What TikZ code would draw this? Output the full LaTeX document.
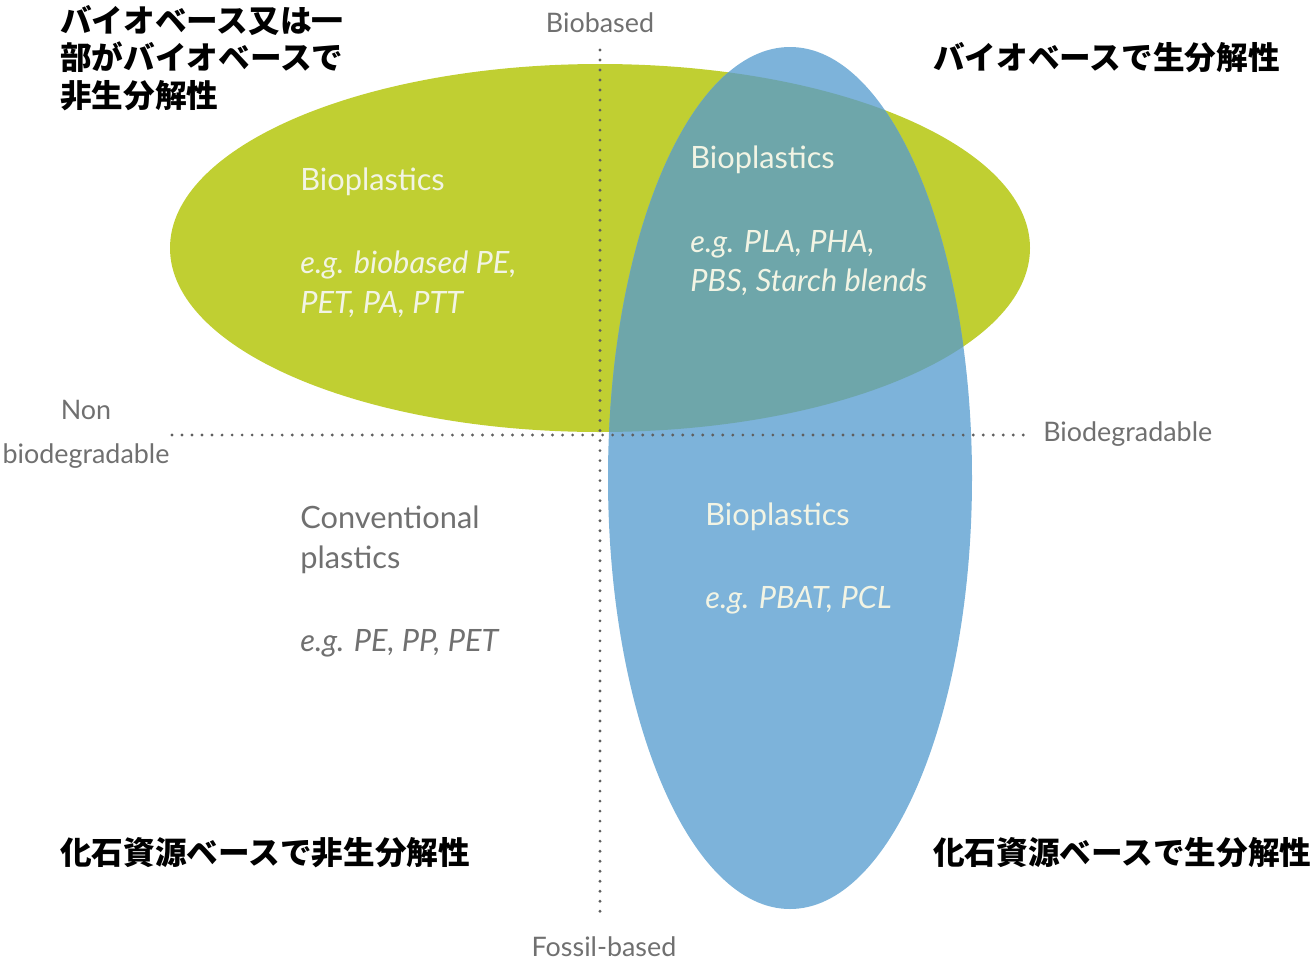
\documentclass[tikz,border=0pt]{standalone}
\usepackage{fontspec}
\setmainfont{Lato}
\newfontfamily\jpfont{Noto Sans CJK JP}
\usepackage{xcolor}
\usepackage{tikz}

\definecolor{bioGreen}{RGB}{192,207,50}
\definecolor{bioBlue}{RGB}{125,179,218}
\definecolor{bioTeal}{RGB}{110,166,170}
\definecolor{axisGray}{RGB}{112,112,112}
\definecolor{dotGray}{RGB}{95,95,95}
\definecolor{lightText}{RGB}{242,244,228}

\begin{document}
\begin{tikzpicture}[x=0.02cm,y=-0.02cm,
  axislabel/.style={text=axisGray,font=\fontsize{15.3}{25}\selectfont,inner sep=0pt},
  biolabel/.style={text=lightText,font=\fontsize{17.5}{22.5}\selectfont,anchor=west,inner sep=0pt,align=left},
  biolabelit/.style={biolabel,font=\fontsize{17.5}{22.5}\selectfont\itshape},
  jplabel/.style={font=\jpfont\bfseries\fontsize{18}{21.3}\selectfont,anchor=west,inner sep=0pt,align=left},
  dotline/.style={dotGray,line width=1.8pt,line cap=round,dash pattern=on 0pt off 5.7pt}]
  \useasboundingbox (0,0) rectangle (1316,964);
  % bio-based: wide ellipse, biodegradable: tall ellipse
  \fill[bioGreen] (600,248) ellipse [x radius=430,y radius=184];
  \fill[bioBlue] (790,478) ellipse [x radius=182,y radius=431];
  \begin{scope}
    \clip (600,248) ellipse [x radius=430,y radius=184];
    \fill[bioTeal] (790,478) ellipse [x radius=182,y radius=431];
  \end{scope}
  % axes
  \coordinate (axTop) at (600,50);
  \coordinate (axBottom) at (600,912);
  \coordinate (axLeft) at (172,435);
  \coordinate (axRight) at (1027,435);
  \draw[dotline] (axTop) -- (axBottom);
  \draw[dotline] (axLeft) -- (axRight);
  \node[axislabel] (biobased) at (600,23) {Biobased};
  \node[axislabel] (fossil) at (604,947) {Fossil-based};
  \node[axislabel,align=center] (nonbio) at (86,434) {Non\\biodegradable};
  \node[axislabel,anchor=west] (biodeg) at (1043,434) {Biodegradable};
  % quadrant contents
  \node[biolabel] (greenTitle) at (300,182) {Bioplastics};
  \node[biolabelit] (greenEx) at (300,284) {e.g. biobased PE,\\PET, PA, PTT};
  \node[biolabel] (tealTitle) at (690,160) {Bioplastics};
  \node[biolabelit] (tealEx) at (690,263) {e.g. PLA, PHA,\\PBS, Starch blends};
  \node[biolabel] (blueTitle) at (705,517) {Bioplastics};
  \node[biolabelit] (blueEx) at (705,600) {e.g. PBAT, PCL};
  \node[biolabel,text=axisGray] (convTitle) at (300,540) {Conventional\\plastics};
  \node[biolabelit,text=axisGray] (convEx) at (300,643) {e.g. PE, PP, PET};
  % Japanese captions
  \node[jplabel,anchor=north west] (bioNonDeg) at (60,5) {バイオベース又は一\\部がバイオベースで\\非生分解性};
  \node[jplabel] (bioDeg) at (933,58) {バイオベースで生分解性};
  \node[jplabel] (fossilNonDeg) at (60,853) {化石資源ベースで非生分解性};
  \node[jplabel] (fossilDeg) at (933,853) {化石資源ベースで生分解性};
\end{tikzpicture}
\end{document}
